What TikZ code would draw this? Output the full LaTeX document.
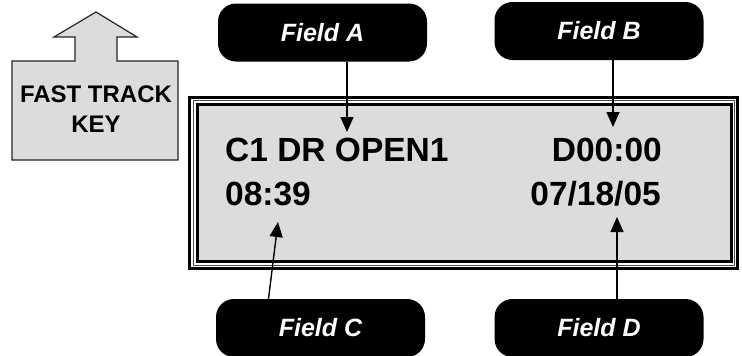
\documentclass[tikz,border=0pt]{standalone}
\usepackage{fontspec}
\setmainfont{Liberation Sans}
\usepackage{tikz}
\usetikzlibrary{arrows.meta, positioning, calc}
\definecolor{lcdgray}{RGB}{220,220,220}

\begin{document}
\begin{tikzpicture}[
  x=1pt, y=-1pt,
  field/.style={fill=black, rounded corners=18pt, minimum width=209pt, minimum height=58pt, inner sep=0pt, text=white, font=\fontsize{25}{28}\selectfont\bfseries\itshape},
  lcdtext/.style={inner sep=0pt, font=\fontsize{33.5}{40}\selectfont\bfseries},
  pointer/.style={line width=1.4pt, -{Triangle[length=15pt, width=13pt]}},
  keybox/.style={draw=black!85, line width=1.2pt, fill=lcdgray}
]
  \useasboundingbox (0,0) rectangle (742,356);

  % fast track key
  \draw[keybox] (12,61) -- (75,61) -- (75,37) -- (54,37) -- (96,12) -- (137,37)
    -- (117,37) -- (117,61) -- (178,61) -- (178,160) -- (12,160) -- cycle;
  \node[align=center, font=\fontsize{24}{30}\selectfont\bfseries] (key) at (96,109) {FAST TRACK\\KEY};

  % display frame
  \draw[line width=3pt] (189.5,97.5) rectangle (737.5,268.5);
  \draw[line width=0.8pt, black!70] (193,100.5) rectangle (734.5,265.5);
  \draw[line width=3pt, fill=lcdgray] (197.5,104.5) rectangle (731.5,261.5);

  \node[lcdtext, anchor=base west] (name) at (225,161) {C1 DR OPEN1};
  \node[lcdtext, anchor=base east] (dur) at (662,161) {D00:00};
  \node[lcdtext, anchor=base west] (time) at (225,205) {08:39};
  \node[lcdtext, anchor=base east] (date) at (661,205) {07/18/05};

  % field labels
  \node[field] (fa) at (322.5,32.5) {Field A};
  \node[field] (fb) at (599,31) {Field B};
  \node[field] (fc) at (320.5,328) {Field C};
  \node[field] (fd) at (599,328) {Field D};

  \coordinate (tipA) at (347,132);
  \coordinate (tipB) at (613,127);
  \coordinate (tipC) at (278,222);
  \coordinate (tipD) at (617,217);

  \draw[pointer] (fa.south -| tipA) -- (tipA);
  \draw[pointer] (fb.south -| tipB) -- (tipB);
  \draw[pointer] ([xshift=-52pt]fc.north) -- (tipC);
  \draw[pointer] (fd.north -| tipD) -- (tipD);
\end{tikzpicture}
\end{document}
